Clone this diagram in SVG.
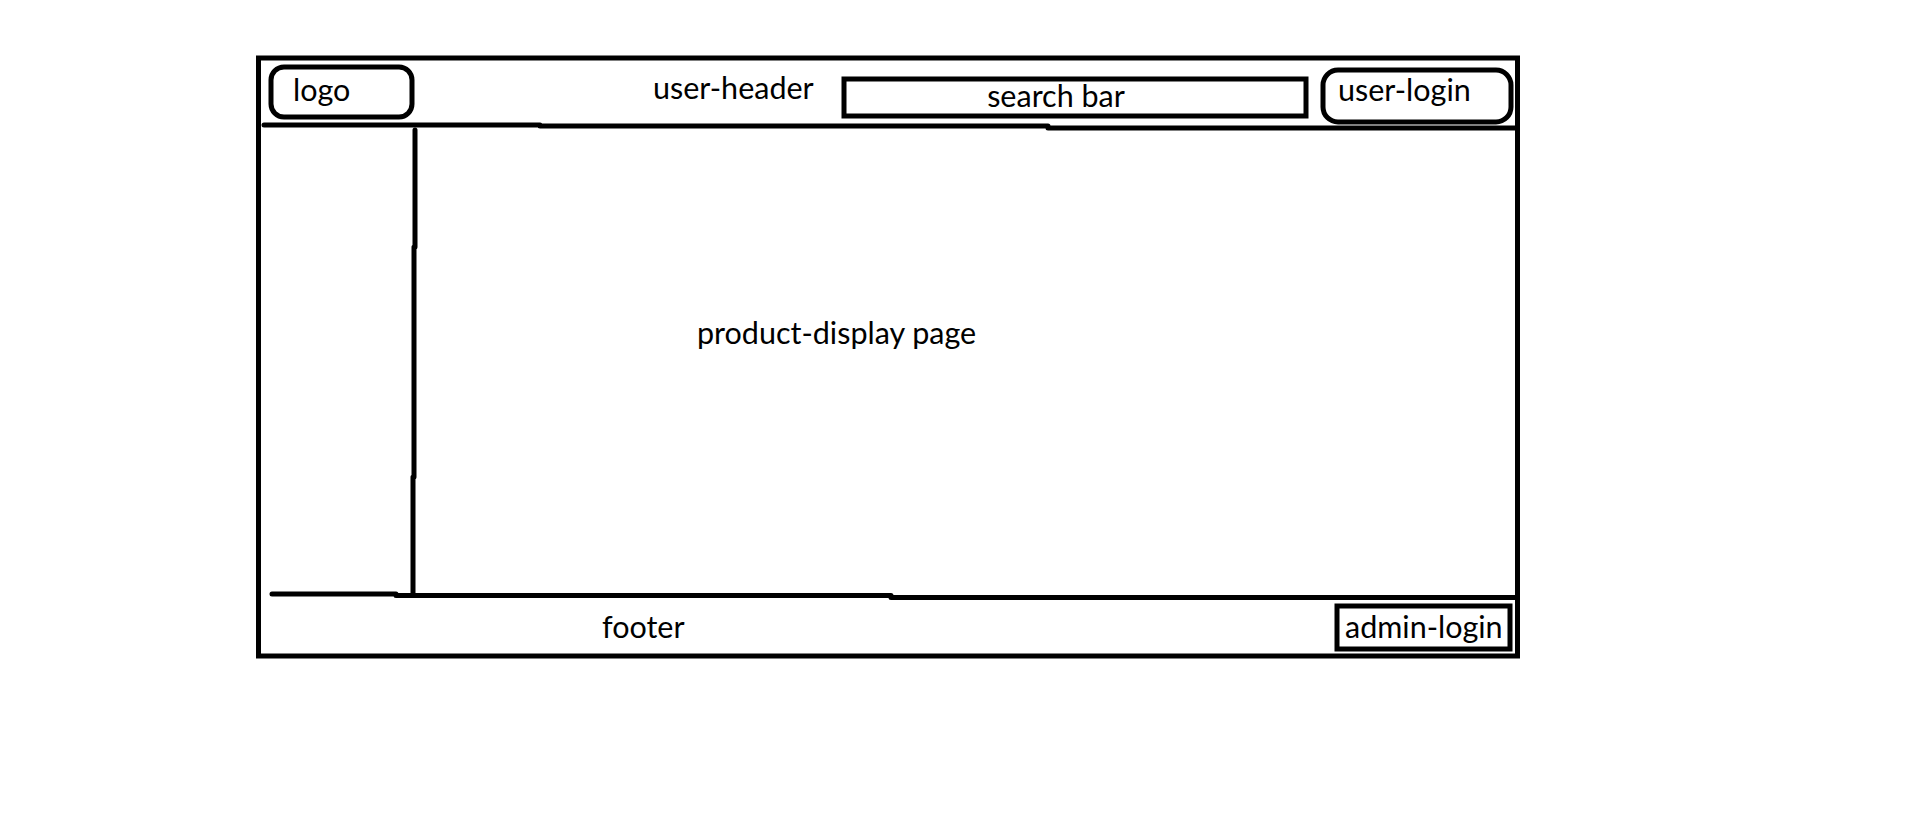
<svg xmlns="http://www.w3.org/2000/svg" width="1914" height="813" viewBox="0 0 1914 813">
  <style>
    .ln { fill: none; stroke: #000; stroke-width: 5; stroke-linecap: round; stroke-linejoin: round; }
    .bx { fill: #fff; stroke: #000; stroke-width: 5; }
    .t { font-family: Lato, "Open Sans", "Liberation Sans", sans-serif; font-size: 30.5px; fill: #000; }
  </style>
  <rect width="1914" height="813" fill="#fff"/>

  <!-- page frame -->
  <g id="page">
    <rect class="bx" x="258.5" y="58" width="1259" height="598"/>
  </g>

  <!-- dividing lines between header, sidebar, content and footer -->
  <g id="connectors">
    <polyline class="ln" points="264,125 540,125 540,126 1048,126 1048,128 1516,128"/>
    <polyline class="ln" points="415,130 415,247 414,247 414,477 413,477 413,594.5"/>
    <polyline class="ln" points="272,594 396,594 396,595.5 891,595.5 891,597.5 1516,597.5"/>
  </g>

  <g id="logo">
    <rect class="bx" x="271" y="67" width="141" height="50" rx="13"/>
    <text class="t" x="293" y="101">logo</text>
  </g>

  <g id="user-header">
    <text class="t" x="653" y="99">user-header</text>
  </g>

  <g id="search-bar">
    <rect class="bx" x="844" y="79" width="462" height="37"/>
    <text class="t" x="1056" y="107" text-anchor="middle">search bar</text>
  </g>

  <g id="user-login">
    <rect class="bx" x="1323" y="70" width="188" height="52" rx="15"/>
    <text class="t" x="1338" y="101">user-login</text>
  </g>

  <g id="product-display">
    <text class="t" x="697" y="344">product-display page</text>
  </g>

  <g id="footer">
    <text class="t" x="602" y="638">footer</text>
  </g>

  <g id="admin-login">
    <rect class="bx" x="1337" y="606" width="173" height="43"/>
    <text class="t" x="1345" y="638">admin-login</text>
  </g>
</svg>
